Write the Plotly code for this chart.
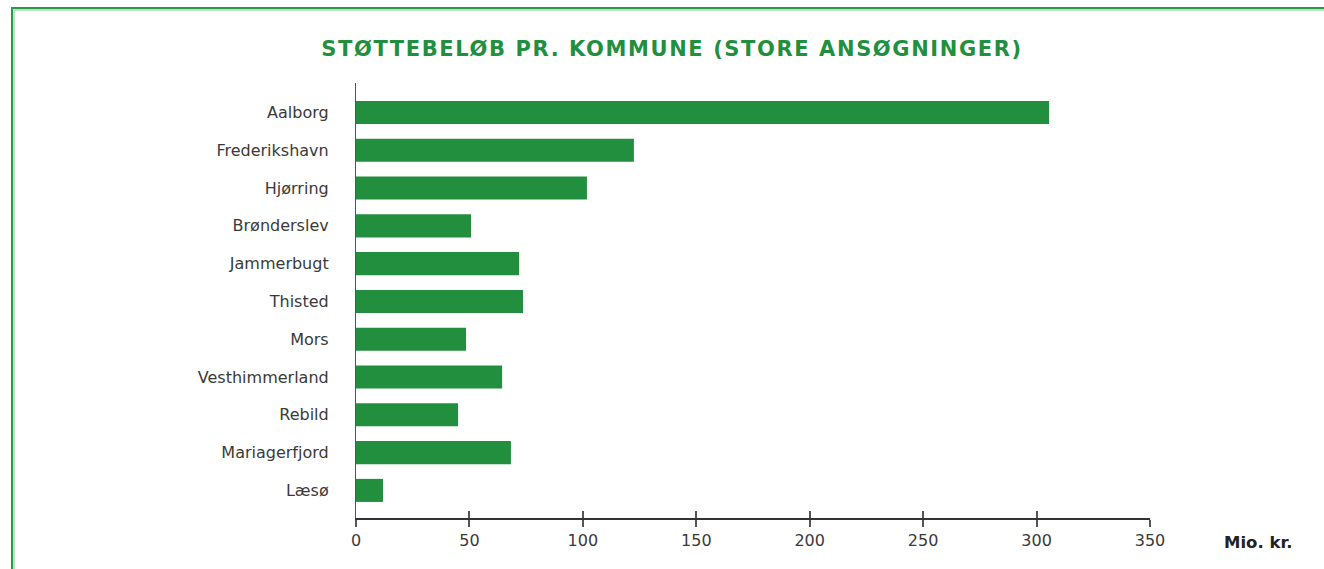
import plotly.graph_objects as go

categories = ["Aalborg", "Frederikshavn", "Hjørring", "Brønderslev", "Jammerbugt",
              "Thisted", "Mors", "Vesthimmerland", "Rebild", "Mariagerfjord", "Læsø"]
values = [305.5, 122.5, 101.8, 50.7, 71.9, 73.6, 48.5, 64.4, 45.0, 68.3, 11.9]
tick_vals = [0, 50, 100, 150, 200, 250, 300, 350]
title_text = "STØTTEBELØB PR. KOMMUNE (STORE ANSØGNINGER)"
unit_text = "Mio. kr."

GREEN = "#228f3e"
FONT = "DejaVu Sans"

W, H = 1324, 569
L, R, T, B = 356, 1150, 83, 518

fig = go.Figure()
fig.add_trace(go.Bar(
    x=values, y=categories, orientation="h",
    marker=dict(color=GREEN, line=dict(width=0)),
    width=0.61, hoverinfo="x+y",
))
# invisible trace to activate overlay axis for crossing tick marks
fig.add_trace(go.Scatter(x=[0], y=[categories[0]], xaxis="x2", mode="markers",
                         marker=dict(opacity=0), showlegend=False, hoverinfo="skip"))

fig.update_layout(
    width=W, height=H,
    margin=dict(l=L, r=W - R, t=T, b=H - B, pad=0),
    paper_bgcolor="white", plot_bgcolor="white",
    showlegend=False,
    font=dict(family=FONT, color="#333333"),
    title=dict(text="<b>" + title_text + "</b>", x=672 / W, xanchor="center",
               y=1 - 49 / H, yanchor="middle",
               font=dict(family=FONT, size=21, color=GREEN)),
    xaxis=dict(range=[0, 350], tickvals=tick_vals, ticktext=[str(v) for v in tick_vals],
               showgrid=False, zeroline=False, showline=True, linecolor="#333333", linewidth=1.5,
               ticks="outside", ticklen=7, tickcolor="#555555", tickwidth=1.5,
               tickfont=dict(family=FONT, size=16, color="#3a3a3a"), fixedrange=True),
    xaxis2=dict(range=[0, 350], tickvals=tick_vals, overlaying="x", side="bottom",
                showgrid=False, zeroline=False, showline=False, showticklabels=False,
                ticks="inside", ticklen=7, tickcolor="#555555", tickwidth=1.5, fixedrange=True),
    yaxis=dict(categoryorder="array", categoryarray=categories,
               range=[10.73, -0.78], showgrid=False, zeroline=False,
               showline=True, linecolor="#555555", linewidth=1.2, ticks="",
               ticklabelstandoff=23,
               tickfont=dict(family=FONT, size=16, color="#3a3a3a"), fixedrange=True),
)

fig.add_annotation(text="<b>" + unit_text + "</b>", xref="paper", yref="paper",
                   x=(1258 - L) / (R - L), y=(B - 542) / (B - T),
                   xanchor="center", yanchor="middle", showarrow=False,
                   font=dict(family=FONT, size=16.5, color="#222222"))

def px_x(px):
    return (px - L) / (R - L)

def px_y(py):
    return (B - py) / (B - T)

# light inner shadow then dark green frame (left and top edges)
fig.add_shape(type="path", xref="paper", yref="paper",
              path=f"M {px_x(14)} {px_y(600)} L {px_x(14)} {px_y(10)} L {px_x(1340)} {px_y(10)}",
              line=dict(color="#a8d8b2", width=1.5), layer="above")
fig.add_shape(type="path", xref="paper", yref="paper",
              path=f"M {px_x(12)} {px_y(600)} L {px_x(12)} {px_y(8)} L {px_x(1340)} {px_y(8)}",
              line=dict(color="#2a9a45", width=2), layer="above")

post = """
document.body.style.margin='0';
document.body.style.overflow='hidden';
var t=document.querySelectorAll('.gtitle');
t.forEach(function(e){e.style.letterSpacing='1.6px';});
"""

fig.write_html("out.html", post_script=post, config={"displayModeBar": False})
